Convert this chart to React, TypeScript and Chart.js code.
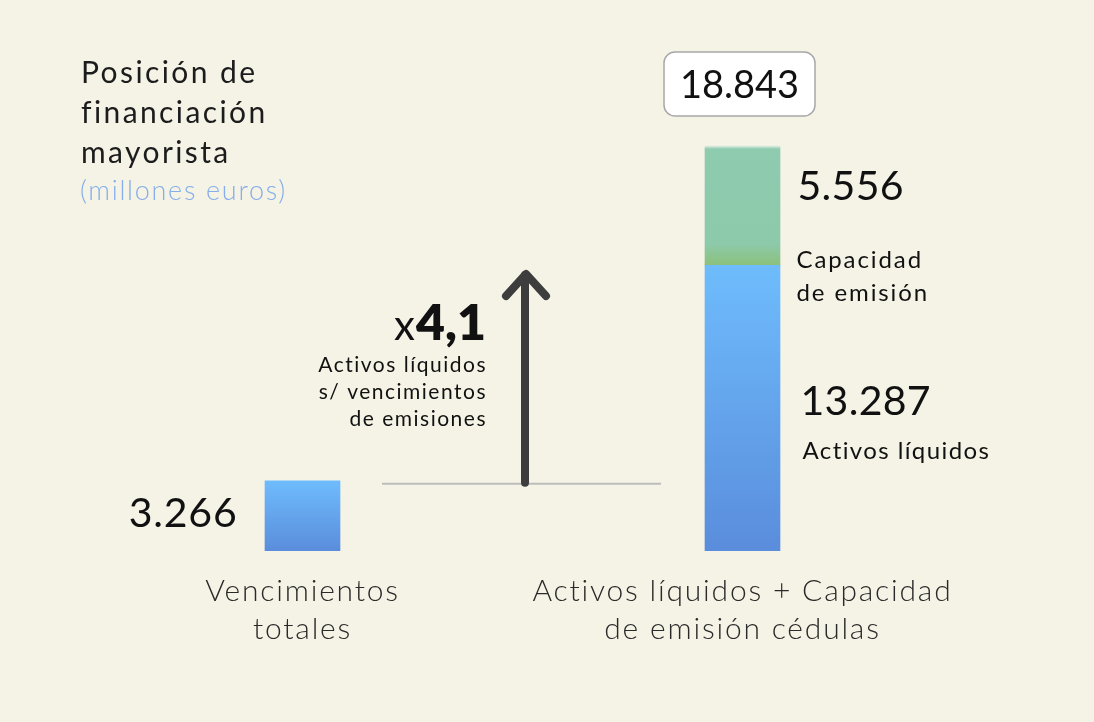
import React, { useEffect, useRef } from "react";
import { Chart, registerables } from "chart.js";

Chart.register(...registerables);

const categories = [
  ["Vencimientos", "totales"],
  ["Activos líquidos + Capacidad", "de emisión cédulas"],
];
const blueValues = [3266, 13287];
const greenValues = [null, 5556];
const blueLabels = ["3.266", "13.287"];
const greenLabel = "5.556";
const totalLabel = "18.843";
const ratioLabel = "4,1";
const titleLines = ["Posición de", "financiación", "mayorista"];
const subtitle = "(millones euros)";
const ratioText = ["Activos líquidos", "s/ vencimientos", "de emisiones"];

const FONT = "Lato, 'Open Sans', sans-serif";

function barGradient(ctx: any, stops: [number, string][]) {
  const chart = ctx.chart;
  const y = chart.scales?.y;
  if (!chart.chartArea || !y) return stops[0][1];
  const ds = chart.data.datasets[ctx.datasetIndex];
  const v = ds.data[ctx.dataIndex] as number;
  if (v == null) return stops[0][1];
  let base = 0;
  for (let i = 0; i < ctx.datasetIndex; i++) {
    const pv = chart.data.datasets[i].data[ctx.dataIndex] as number;
    if (pv != null) base += pv;
  }
  const top = y.getPixelForValue(base + v);
  const bottom = y.getPixelForValue(base);
  const g = chart.ctx.createLinearGradient(0, top, 0, bottom);
  stops.forEach(([o, c]) => g.addColorStop(o, c));
  return g;
}

function spaced(c: CanvasRenderingContext2D, px: number) {
  (c as any).letterSpacing = px + "px";
}

const overlay = {
  id: "overlay",
  beforeDraw(chart: any) {
    const c = chart.ctx;
    c.save();
    c.fillStyle = "#F5F3E6";
    c.fillRect(0, 0, chart.width, chart.height);
    c.restore();
  },
  afterDraw(chart: any) {
    const c = chart.ctx as CanvasRenderingContext2D;
    const x = chart.scales.x;
    const y = chart.scales.y;
    const x0 = x.getPixelForValue(0);
    const x1 = x.getPixelForValue(1);
    c.save();
    c.textBaseline = "alphabetic";

    // title
    c.fillStyle = "#1c1c1c";
    c.font = `400 30px ${FONT}`;
    c.textAlign = "left";
    spaced(c, 2.4);
    titleLines.forEach((t, i) => c.fillText(t, 81, 83 + i * 40));
    c.fillStyle = "#86AEEA";
    c.font = `300 27px ${FONT}`;
    spaced(c, 1.7);
    c.fillText(subtitle, 80, 200);

    // category labels
    c.fillStyle = "#2a2a2a";
    c.font = `300 30px ${FONT}`;
    spaced(c, 1.8);
    c.textAlign = "center";
    categories.forEach((lines, i) => {
      const cx = x.getPixelForValue(i);
      lines.forEach((t, j) => c.fillText(t, cx, 601 + j * 38));
    });

    // value labels
    c.fillStyle = "#111";
    c.font = `400 41px ${FONT}`;
    spaced(c, 0.8);
    c.textAlign = "right";
    c.fillText(blueLabels[0], x0 - 65, 527);
    c.textAlign = "left";
    spaced(c, 0.3);
    c.fillText(greenLabel, x1 + 55, 200);
    c.fillText(blueLabels[1], x1 + 58, 415);
    c.font = `400 24px ${FONT}`;
    spaced(c, 1.9);
    c.fillText("Capacidad", x1 + 54, 268);
    c.fillText("de emisión", x1 + 54, 301);
    spaced(c, 1.4);
    c.fillText("Activos líquidos", x1 + 60, 459);

    // total box
    const total = blueValues[1] + (greenValues[1] as number);
    const topY = y.getPixelForValue(total);
    const bw = 151, bh = 64;
    const bx = x1 - bw / 2 - 3, by = topY - 94;
    c.beginPath();
    (c as any).roundRect(bx, by, bw, bh, 11);
    c.fillStyle = "#ffffff";
    c.fill();
    c.lineWidth = 1.5;
    c.strokeStyle = "#A8A8A8";
    c.stroke();
    c.fillStyle = "#111";
    c.font = `400 38px ${FONT}`;
    spaced(c, 0);
    c.textAlign = "center";
    c.fillText(totalLabel, bx + bw / 2, by + 46);

    // reference line at vencimientos level
    const refY = y.getPixelForValue(blueValues[0]) + 3;
    c.strokeStyle = "#BDBDBD";
    c.lineWidth = 2;
    c.beginPath();
    c.moveTo(382, refY);
    c.lineTo(661, refY);
    c.stroke();

    // arrow
    c.strokeStyle = "#3D3D3D";
    c.lineWidth = 8;
    c.lineCap = "round";
    c.lineJoin = "round";
    c.beginPath();
    c.moveTo(525, refY - 1);
    c.lineTo(525, 275);
    c.stroke();
    c.beginPath();
    c.moveTo(506, 296);
    c.lineTo(526, 274);
    c.lineTo(546, 296);
    c.stroke();

    // ratio text
    c.textAlign = "right";
    c.fillStyle = "#111";
    c.font = `800 50px ${FONT}`;
    spaced(c, 0);
    c.fillText(ratioLabel, 486, 340);
    const w = c.measureText(ratioLabel).width;
    c.font = `400 42px ${FONT}`;
    c.fillText("x", 486 - w - 1, 340);
    c.font = `400 21px ${FONT}`;
    spaced(c, 1.5);
    ratioText.forEach((t, i) => c.fillText(t, 487, 372 + i * 27));

    c.restore();
  },
};

export default function App() {
  const ref = useRef<HTMLCanvasElement>(null);
  useEffect(() => {
    document.body.style.margin = "0";
    const chart = new Chart(ref.current!, {
      type: "bar",
      data: {
        labels: categories.map((l) => l.join(" ")),
        datasets: [
          {
            label: "Activos líquidos",
            data: blueValues,
            backgroundColor: (ctx: any) =>
              barGradient(ctx, [
                [0, "#6EBCFC"],
                [1, "#5A8DDC"],
              ]),
            barThickness: 75,
            borderWidth: 0,
          },
          {
            label: "Capacidad de emisión",
            data: greenValues as any,
            backgroundColor: (ctx: any) =>
              barGradient(ctx, [
                [0, "#DCEBE3"],
                [0.025, "#8ECBAF"],
                [0.82, "#8DCAAB"],
                [1, "#8BC07B"],
              ]),
            barThickness: 75,
            borderWidth: 0,
          },
        ],
      },
      options: {
        responsive: false,
        animation: false,
        layout: { padding: { left: 82.5, right: 131.5, top: 13.7, bottom: 171 } },
        plugins: { legend: { display: false }, tooltip: { enabled: false } },
        scales: {
          x: { display: false, stacked: true },
          y: { display: false, stacked: true, min: 0, max: 25000 },
        },
      },
      plugins: [overlay],
    });
    return () => chart.destroy();
  }, []);
  return (
    <div style={{ position: "absolute", left: 0, top: 0, width: 1094, height: 722 }}>
      <canvas ref={ref} width={1094} height={722} style={{ display: "block" }} />
    </div>
  );
}
